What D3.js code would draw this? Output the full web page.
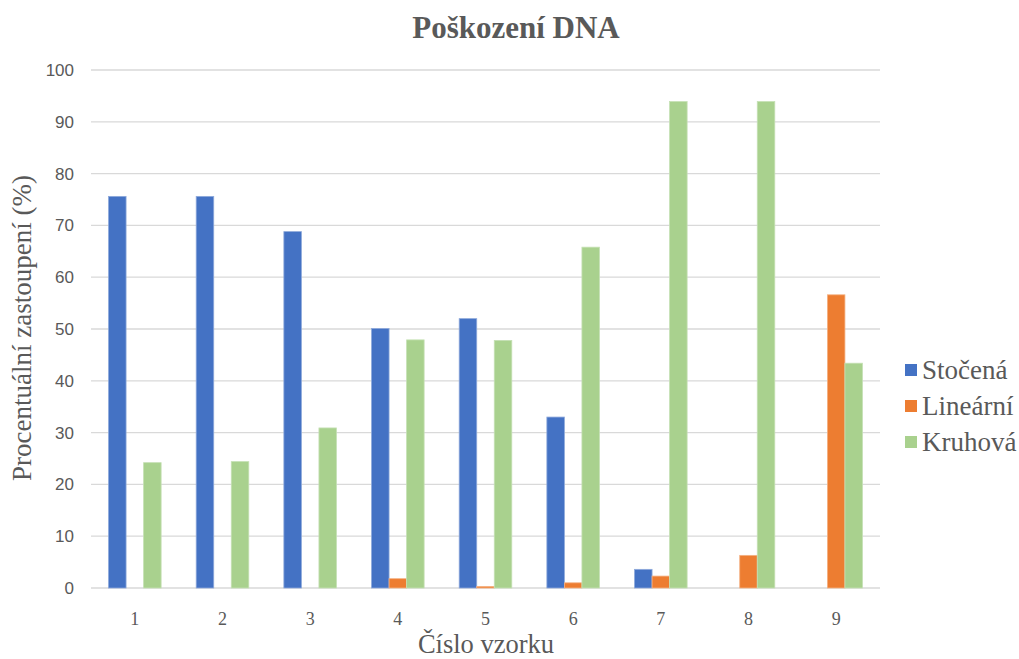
<!DOCTYPE html>
<html><head><meta charset="utf-8">
<script src="https://cdn.jsdelivr.net/npm/d3@7"></script>
<style>body{margin:0;background:#fff}svg{display:block}</style>
</head><body>
<svg id="c" width="1019" height="659"></svg>
<script>
const categories = ["1","2","3","4","5","6","7","8","9"];
const seriesNames = ["Stočená","Lineární","Kruhová"];
const stocena  = [75.6, 75.6, 68.8, 50.1, 52.0, 33.0, 3.6, 0, 0];
const linearni = [0, 0, 0, 1.8, 0.3, 1.0, 2.3, 6.3, 56.6];
const kruhova  = [24.2, 24.4, 30.9, 47.9, 47.8, 65.8, 93.9, 93.9, 43.4];
const yTicks = [0,10,20,30,40,50,60,70,80,90,100];
const colors = ["#4472C4","#ED7D31","#A9D18E"];
const strokes = ["#8EA9DB","#F4B183","#C5E0B4"];

const values = [stocena, linearni, kruhova];
const serif = "'Liberation Serif', 'Times New Roman', serif";
const svg = d3.select("#c");
const x0 = d3.scaleBand().domain(categories).range([91, 880]).paddingInner(0).paddingOuter(0);
const x1 = d3.scaleBand().domain(seriesNames).range([0, x0.bandwidth()]).paddingInner(0).paddingOuter(1);
const y = d3.scaleLinear().domain([0,100]).range([588, 70]);

// gridlines
svg.append("g").selectAll("line").data(yTicks).join("line")
  .attr("x1", 91).attr("x2", 880)
  .attr("y1", d => y(d)).attr("y2", d => y(d))
  .attr("stroke", "#D9D9D9").attr("stroke-width", 1.3);

// y tick labels
svg.append("g").selectAll("text").data(yTicks).join("text")
  .attr("x", 74).attr("y", d => y(d)).attr("dy", "0.35em")
  .attr("text-anchor", "end")
  .attr("font-family", "'Liberation Sans', Arial, sans-serif")
  .attr("font-size", 17).attr("fill", "#595959")
  .text(d => d);

// bars
const g = svg.append("g");
categories.forEach((c, i) => {
  seriesNames.forEach((s, j) => {
    const v = values[j][i];
    if (v <= 0) return;
    g.append("rect")
      .attr("x", x0(c) + x1(s))
      .attr("y", y(v))
      .attr("width", x1.bandwidth())
      .attr("height", y(0) - y(v))
      .attr("fill", colors[j])
      .attr("stroke", strokes[j]).attr("stroke-width", 0.8);
  });
});

// x tick labels
svg.append("g").selectAll("text").data(categories).join("text")
  .attr("x", d => x0(d) + x0.bandwidth()/2).attr("y", 625)
  .attr("text-anchor", "middle")
  .attr("font-family", serif)
  .attr("font-size", 18).attr("fill", "#595959")
  .text(d => d);

// title
svg.append("text").attr("x", 516).attr("y", 38).attr("text-anchor", "middle")
  .attr("font-family", serif)
  .attr("font-weight", "bold").attr("font-size", 31).attr("fill", "#595959")
  .text("Poškození DNA");

// axis titles
svg.append("text").attr("x", 486).attr("y", 653).attr("text-anchor", "middle")
  .attr("font-family", serif)
  .attr("font-size", 26.5).attr("fill", "#595959")
  .text("Číslo vzorku");
svg.append("text").attr("transform", "translate(31,328) rotate(-90)").attr("text-anchor", "middle")
  .attr("font-family", serif)
  .attr("font-size", 27).attr("fill", "#595959")
  .text("Procentuální zastoupení (%)");

// legend
const lg = svg.append("g");
seriesNames.forEach((s, j) => {
  const cy = 370 + j * 36;
  lg.append("rect").attr("x", 905).attr("y", cy - 6).attr("width", 12).attr("height", 12).attr("fill", colors[j]);
  lg.append("text").attr("x", 922).attr("y", cy).attr("dy", "0.35em")
    .attr("font-family", serif)
    .attr("font-size", 27).attr("fill", "#595959").text(s);
});
</script>
</body></html>
